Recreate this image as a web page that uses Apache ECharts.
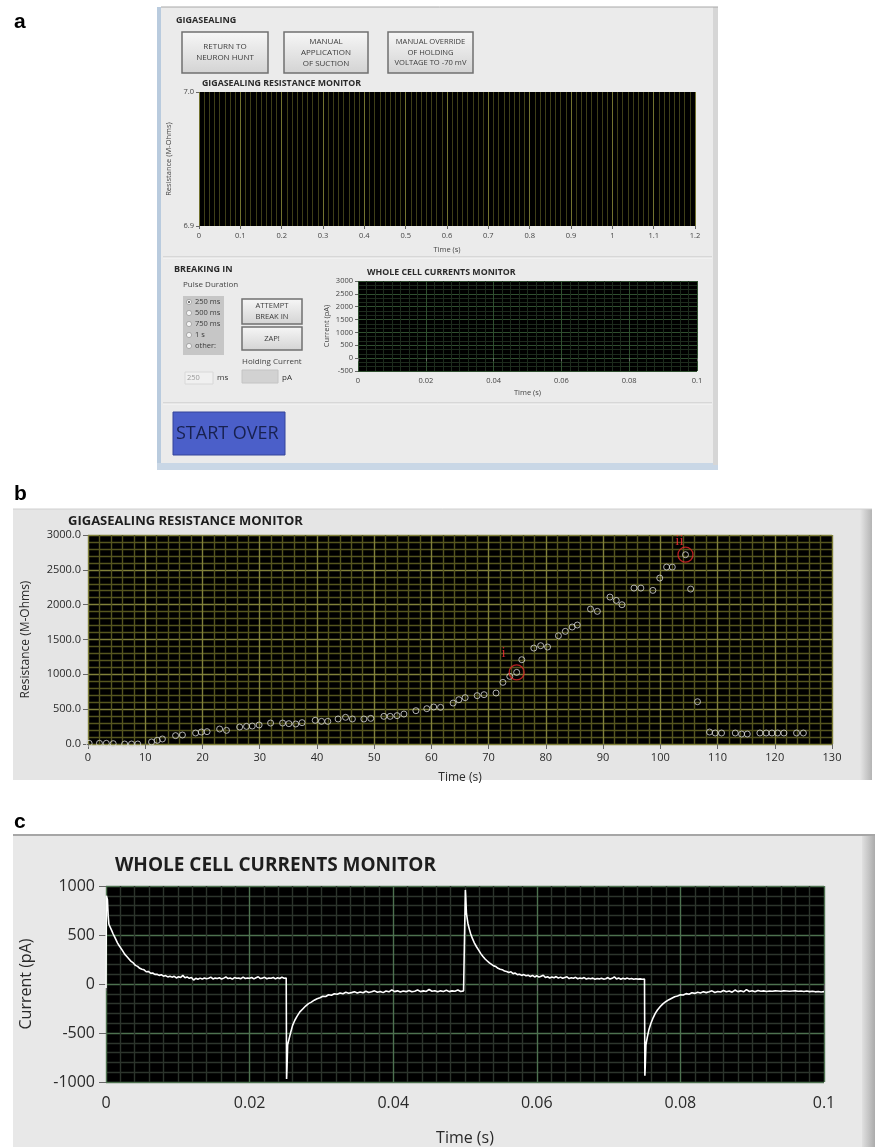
<!DOCTYPE html>
<html>
<head>
<meta charset="utf-8">
<title>Gigasealing monitor</title>
<script src="https://cdn.jsdelivr.net/npm/echarts@6/dist/echarts.min.js"></script>
<style>
  html, body { margin: 0; padding: 0; background: #ffffff; }
  #main { width: 878px; height: 1147px; }
</style>
</head>
<body>
<div id="main"></div>
<script>
// panel b: seal resistance while gigasealing (time in s, resistance in M-Ohms)
var sealTime = [0.2, 2.0, 3.2, 4.4, 6.4, 7.6, 8.7, 11.1, 12.1, 13.0, 15.3, 16.5, 18.8, 19.8, 20.8,
  23.0, 24.2, 26.5, 27.7, 28.7, 29.9, 31.9, 34.0, 35.1, 36.3, 37.4, 39.7, 40.8, 41.9, 43.7, 45.0,
  46.2, 48.2, 49.4, 51.7, 52.8, 54.0, 55.2, 57.3, 59.2, 60.4, 61.6, 63.8, 64.8, 65.9, 68.0, 69.2,
  71.3, 72.5, 73.7, 74.9, 75.8, 77.9, 79.1, 80.3, 82.2, 83.4, 84.6, 85.5, 87.8, 89.0, 91.2, 92.3,
  93.3, 95.4, 96.6, 98.7, 99.9, 101.1, 102.1, 104.4, 105.3, 106.5, 108.6, 109.6, 110.7, 113.1,
  114.2, 115.2, 117.4, 118.5, 119.5, 120.5, 121.6, 123.8, 125.0];
var sealResistance = [10, 10, 10, 5, 0, 0, 0, 29, 53, 72, 120, 129, 158, 172, 177,
  215, 196, 244, 253, 258, 273, 301, 301, 292, 287, 306, 340, 325, 325, 359, 383,
  359, 359, 368, 397, 397, 407, 430, 478, 507, 531, 526, 588, 636, 665, 694, 708,
  732, 885, 971, 1028, 1210, 1377, 1411, 1392, 1554, 1617, 1679, 1708, 1937, 1904, 2109, 2061,
  1999, 2238, 2238, 2205, 2382, 2540, 2540, 2717, 2224, 607, 172, 158, 158, 158,
  143, 143, 158, 158, 158, 158, 158, 158, 158];
// the two circled points
var markTime = [74.9, 104.4];
var markResistance = [1028, 2717];
var markName = ['i', 'ii'];
var markOffset = [[-13, -19], [-6, -14]];

// panel c: whole cell current (time in s, current in pA)
var stepUpA = [[0, -40], [0.00005, 900], [0.0002, 860], [0.0003, 700], [0.0004, 610], [0.0006, 590],
  [0.0008, 545], [0.001, 510], [0.0012, 480], [0.0014, 450], [0.0016, 420], [0.0018, 395], [0.002, 375],
  [0.0023, 340], [0.0026, 305], [0.0029, 280], [0.0032, 255], [0.0035, 230], [0.0038, 215], [0.0041, 190],
  [0.0044, 180], [0.0047, 160], [0.005, 150], [0.0053, 145], [0.0056, 125], [0.0059, 128], [0.0062, 110],
  [0.0065, 112], [0.0068, 98], [0.0071, 100], [0.0074, 88], [0.0077, 95], [0.008, 80], [0.0083, 86],
  [0.0086, 72], [0.0089, 80], [0.0092, 70], [0.0095, 78], [0.0098, 62], [0.0101, 74], [0.0104, 66],
  [0.0107, 88], [0.011, 64], [0.0113, 72], [0.0116, 58], [0.0119, 66], [0.0122, 40], [0.0125, 58],
  [0.0128, 48], [0.0131, 60], [0.0134, 50], [0.0137, 62], [0.014, 54], [0.0143, 58], [0.0146, 70],
  [0.0149, 52], [0.0152, 60], [0.0155, 56], [0.0158, 64], [0.0161, 50], [0.0164, 60], [0.0167, 72],
  [0.017, 55], [0.0173, 62], [0.0176, 50], [0.0179, 66], [0.0182, 58], [0.0185, 60], [0.0188, 54],
  [0.0191, 70], [0.0194, 56], [0.0197, 62], [0.02, 58], [0.0203, 66], [0.0206, 52], [0.0209, 64],
  [0.0212, 74], [0.0215, 56], [0.0218, 60], [0.0221, 68], [0.0224, 54], [0.0227, 62], [0.023, 58],
  [0.0233, 66], [0.0236, 52], [0.0239, 64], [0.0242, 56], [0.0245, 70], [0.0248, 58], [0.0251, 60]];
var stepDownA = [[0.02515, -970], [0.0252, -880], [0.0253, -620], [0.0255, -560], [0.0257, -500],
  [0.026, -420], [0.0263, -370], [0.0266, -330], [0.027, -285], [0.0274, -255], [0.0278, -225],
  [0.0282, -200], [0.0286, -185], [0.029, -165], [0.0294, -150], [0.0298, -140], [0.0302, -125],
  [0.0306, -128], [0.031, -110], [0.0314, -115], [0.0318, -100], [0.0322, -105], [0.0326, -92],
  [0.033, -100], [0.0334, -85], [0.0338, -95], [0.0342, -88], [0.0346, -78], [0.035, -92], [0.0354, -82],
  [0.0358, -90], [0.0362, -74], [0.0366, -86], [0.037, -80], [0.0374, -70], [0.0378, -84], [0.0382, -76],
  [0.0386, -88], [0.039, -72], [0.0394, -80], [0.0398, -60], [0.0402, -78], [0.0406, -70], [0.041, -82],
  [0.0414, -72], [0.0418, -78], [0.0422, -66], [0.0426, -80], [0.043, -74], [0.0434, -62], [0.0438, -78],
  [0.0442, -70], [0.0446, -76], [0.045, -56], [0.0454, -74], [0.0458, -68], [0.0462, -80], [0.0466, -70],
  [0.047, -76], [0.0474, -64], [0.0478, -78], [0.0482, -70], [0.0486, -74], [0.049, -62], [0.0494, -76],
  [0.0498, -70], [0.05, -72]];
var stepUpB = [[0.05005, 960], [0.0501, 900], [0.0502, 720], [0.0504, 620], [0.0506, 560], [0.0508, 510],
  [0.051, 470], [0.0513, 420], [0.0516, 380], [0.0519, 345], [0.0522, 310], [0.0525, 280], [0.0528, 255],
  [0.0531, 235], [0.0534, 215], [0.0537, 200], [0.054, 185], [0.0543, 178], [0.0546, 160], [0.0549, 150],
  [0.0552, 146], [0.0555, 132], [0.0558, 128], [0.0561, 118], [0.0564, 124], [0.0567, 106], [0.057, 112],
  [0.0573, 96], [0.0576, 100], [0.0579, 88], [0.0582, 96], [0.0585, 84], [0.0588, 90], [0.0591, 76],
  [0.0594, 88], [0.0597, 72], [0.06, 84], [0.0603, 70], [0.0606, 80], [0.0609, 90], [0.0612, 66],
  [0.0615, 74], [0.0618, 62], [0.0621, 72], [0.0624, 64], [0.0627, 76], [0.063, 60], [0.0633, 70],
  [0.0636, 58], [0.0639, 66], [0.0642, 74], [0.0645, 56], [0.0648, 64], [0.0651, 58], [0.0654, 68],
  [0.0657, 54], [0.066, 62], [0.0663, 56], [0.0666, 66], [0.0669, 50], [0.0672, 58], [0.0675, 54],
  [0.0678, 60], [0.0681, 48], [0.0684, 56], [0.0687, 52], [0.069, 58], [0.0693, 50], [0.0696, 54],
  [0.0699, 66], [0.0702, 50], [0.0705, 58], [0.0708, 72], [0.0711, 52], [0.0714, 62], [0.0717, 48],
  [0.072, 58], [0.0723, 52], [0.0726, 60], [0.0729, 50], [0.0732, 56], [0.0735, 48], [0.0738, 54],
  [0.0741, 50], [0.0744, 52], [0.0747, 48], [0.075, 50]];
var stepDownB = [[0.07505, -935], [0.0751, -850], [0.0752, -620], [0.0754, -540], [0.0756, -470],
  [0.0759, -400], [0.0762, -345], [0.0765, -300], [0.0768, -265], [0.0772, -230], [0.0776, -200],
  [0.078, -178], [0.0784, -160], [0.0788, -145], [0.0792, -130], [0.0796, -122], [0.08, -110],
  [0.0804, -112], [0.0808, -98], [0.0812, -104], [0.0816, -90], [0.082, -96], [0.0824, -84], [0.0828, -92],
  [0.0832, -78], [0.0836, -88], [0.084, -80], [0.0844, -70], [0.0848, -86], [0.0852, -76], [0.0856, -82],
  [0.086, -66], [0.0864, -80], [0.0868, -72], [0.0872, -84], [0.0876, -62], [0.088, -78], [0.0884, -70],
  [0.0888, -80], [0.0892, -58], [0.0896, -76], [0.09, -68], [0.0904, -78], [0.0908, -66], [0.0912, -74],
  [0.0916, -70], [0.092, -76], [0.0924, -72], [0.0928, -74], [0.0932, -70], [0.0936, -72], [0.094, -74],
  [0.0944, -70], [0.0948, -72], [0.0952, -74], [0.0956, -72], [0.096, -70], [0.0964, -74], [0.0968, -72],
  [0.0972, -76], [0.0976, -72], [0.098, -78], [0.0984, -74], [0.0988, -80], [0.0992, -76], [0.0996, -82],
  [0.1, -78]];

// panel a: front panel controls
var pulseChoices = ['250 ms', '500 ms', '750 ms', '1 s', 'other:'];

var UI = 'Open Sans, Noto Sans, sans-serif';
var chart = echarts.init(document.getElementById('main'), null, { renderer: 'canvas' });

function axis(gridIndex, min, max, interval, look) {
  return {
    type: 'value', gridIndex: gridIndex, min: min, max: max, interval: interval,
    name: look.name, nameLocation: 'middle', nameGap: look.nameGap,
    nameTextStyle: { fontFamily: UI, fontSize: look.nameSize, color: look.color || '#333' },
    axisLine: { show: false },
    axisTick: { show: true, length: look.tickLen, lineStyle: { color: '#666', width: 1 } },
    axisLabel: {
      fontFamily: UI, fontSize: look.size, color: look.color || '#333', margin: look.margin,
      formatter: look.formatter || plain
    },
    splitLine: { show: !!look.major, lineStyle: { color: look.major, width: look.lineWidth || 1 } },
    minorTick: { show: false, splitNumber: look.minorSplit || 5 },
    minorSplitLine: { show: !!look.minor, lineStyle: { color: look.minor, width: look.lineWidth || 1 } }
  };
}

function button(x, y, w, h, label, size) {
  return {
    type: 'group', x: x, y: y,
    children: [
      { type: 'rect', shape: { x: 0, y: 0, width: w, height: h },
        style: { fill: new echarts.graphic.LinearGradient(0, 0, 0, 1,
          [{ offset: 0, color: '#f7f7f7' }, { offset: 1, color: '#d3d3d3' }]),
          stroke: '#707070', lineWidth: 1.5 } },
      { type: 'text', style: { text: label, x: w / 2, y: h / 2, align: 'center', verticalAlign: 'middle',
        fontFamily: UI, fontSize: size, lineHeight: size + 2.8, fill: '#3c3c3c' } }
    ]
  };
}

function label(x, y, text, size, extra) {
  var st = { text: text, x: x, y: y, fontFamily: UI, fontSize: size, fill: '#2a2a2a', verticalAlign: 'middle' };
  for (var k in (extra || {})) st[k] = extra[k];
  return { type: 'text', style: st };
}

var graphics = [
  // panel a window
  { type: 'rect', z: -10, shape: { x: 158, y: 7, width: 560, height: 463 }, style: { fill: '#ebebeb' } },
  { type: 'rect', z: -9, shape: { x: 157, y: 7, width: 4, height: 463 }, style: { fill: '#b9cbde' } },
  { type: 'rect', z: -9, shape: { x: 157, y: 463, width: 561, height: 7 }, style: { fill: '#c9d7e6' } },
  { type: 'rect', z: -9, shape: { x: 713, y: 7, width: 5, height: 458 }, style: { fill: '#d6d6d6' } },
  { type: 'line', z: -9, shape: { x1: 161, y1: 7, x2: 718, y2: 7 }, style: { stroke: '#a8a8a8', lineWidth: 1 } },
  { type: 'line', z: -9, shape: { x1: 163, y1: 257, x2: 712, y2: 257 }, style: { stroke: '#c2c2c2', lineWidth: 1 } },
  { type: 'line', z: -9, shape: { x1: 163, y1: 258, x2: 712, y2: 258 }, style: { stroke: '#f8f8f8', lineWidth: 1 } },
  { type: 'line', z: -9, shape: { x1: 163, y1: 403, x2: 712, y2: 403 }, style: { stroke: '#c2c2c2', lineWidth: 1 } },
  { type: 'line', z: -9, shape: { x1: 163, y1: 404, x2: 712, y2: 404 }, style: { stroke: '#f8f8f8', lineWidth: 1 } },
  label(176, 20, 'GIGASEALING', 9, { fontWeight: 'bold' }),
  button(182, 32, 86, 41, 'RETURN TO\nNEURON HUNT', 8),
  button(284, 32, 84, 41, 'MANUAL\nAPPLICATION\nOF SUCTION', 8),
  button(388, 32, 85, 41, 'MANUAL OVERRIDE\nOF HOLDING\nVOLTAGE TO -70 mV', 7.6),
  label(202, 83, 'GIGASEALING RESISTANCE MONITOR', 8.8, { fontWeight: 'bold' }),
  label(174, 269, 'BREAKING IN', 9, { fontWeight: 'bold' }),
  label(183, 285, 'Pulse Duration', 8, { fill: '#444' }),
  { type: 'rect', shape: { x: 183, y: 296, width: 41, height: 59 }, style: { fill: '#c6c6c6' } },
  button(242, 299, 60, 25, 'ATTEMPT\nBREAK IN', 7.6),
  button(242, 327, 60, 23, 'ZAP!', 7.6),
  label(242, 362, 'Holding Current', 8, { fill: '#444' }),
  { type: 'rect', shape: { x: 185, y: 372, width: 28, height: 12 }, style: { fill: '#f0f0f0', stroke: '#d8d8d8' } },
  label(187, 378, '250', 7.5, { fill: '#9a9a9a' }),
  label(217, 378, 'ms', 8, { fill: '#333' }),
  { type: 'rect', shape: { x: 242, y: 370, width: 36, height: 13 }, style: { fill: '#d2d2d2', stroke: '#c4c4c4' } },
  label(282, 378, 'pA', 8, { fill: '#333' }),
  label(367, 272, 'WHOLE CELL CURRENTS MONITOR', 8.8, { fontWeight: 'bold' }),
  { type: 'rect', shape: { x: 173, y: 412, width: 112, height: 43 },
    style: { fill: '#4b5fc9', stroke: '#34449a', lineWidth: 1 } },
  label(176, 434, 'START OVER', 18, { fill: '#18214f' }),

  // panel b frame
  { type: 'rect', z: -10, shape: { x: 13, y: 509, width: 859, height: 271 }, style: { fill: '#e5e5e5' } },
  { type: 'rect', z: -9, shape: { x: 860, y: 509, width: 12, height: 271 },
    style: { fill: new echarts.graphic.LinearGradient(0, 0, 1, 0,
      [{ offset: 0, color: '#e5e5e5' }, { offset: 1, color: '#b4b4b4' }]) } },
  { type: 'line', z: -9, shape: { x1: 13, y1: 509, x2: 872, y2: 509 }, style: { stroke: '#d0d0d0', lineWidth: 1 } },
  label(68, 521, 'GIGASEALING RESISTANCE MONITOR', 13, { fontWeight: 'bold', fill: '#1e1e1e' }),

  // panel c frame
  { type: 'rect', z: -10, shape: { x: 13, y: 835, width: 862, height: 312 }, style: { fill: '#e8e8e8' } },
  { type: 'rect', z: -9, shape: { x: 862, y: 835, width: 13, height: 312 },
    style: { fill: new echarts.graphic.LinearGradient(0, 0, 1, 0,
      [{ offset: 0, color: '#e0e0e0' }, { offset: 1, color: '#ababab' }]) } },
  { type: 'line', z: -9, shape: { x1: 13, y1: 835, x2: 875, y2: 835 }, style: { stroke: '#a6a6a6', lineWidth: 2 } },
  label(115, 866, 'WHOLE CELL CURRENTS MONITOR', 19, { fontWeight: 'bold', fill: '#1e1e1e' }),

  // panel letters
  label(14, 22, 'a', 21, { fontWeight: 'bold', fontFamily: 'Liberation Sans, Arial, sans-serif', fill: '#000' }),
  label(14, 494, 'b', 21, { fontWeight: 'bold', fontFamily: 'Liberation Sans, Arial, sans-serif', fill: '#000' }),
  label(14, 822, 'c', 21, { fontWeight: 'bold', fontFamily: 'Liberation Sans, Arial, sans-serif', fill: '#000' })
];

pulseChoices.forEach(function (name, i) {
  var cy = 302 + i * 11;
  graphics.push({ type: 'circle', shape: { cx: 189, cy: cy, r: 2.6 },
    style: { fill: '#f4f4f4', stroke: '#9a9a9a', lineWidth: 0.8 } });
  if (i === 0) {
    graphics.push({ type: 'circle', shape: { cx: 189, cy: cy, r: 1 }, style: { fill: '#444' } });
  }
  graphics.push(label(195, cy, name, 7.5, { fill: '#3a3a3a' }));
});

var sealPoints = sealTime.map(function (t, i) { return [t, sealResistance[i]]; });
var markPoints = markTime.map(function (t, i) {
  return { value: [t, markResistance[i]], name: markName[i],
    label: { offset: markOffset[i] } };
});
var currentTrace = stepUpA.concat(stepDownA, stepUpB, stepDownB);

function plain(v) { return String(v); }
function fixed1(v) { return v.toFixed(1); }

var option = {
  backgroundColor: '#ffffff',
  animation: false,
  graphic: { elements: graphics },
  grid: [
    { left: 199, top: 92, width: 496, height: 134, show: true, backgroundColor: '#000', borderWidth: 0 },
    { left: 358, top: 281, width: 339, height: 90, show: true, backgroundColor: '#000', borderWidth: 0 },
    { left: 88, top: 535, width: 744, height: 209, show: true, backgroundColor: '#000', borderWidth: 0 },
    { left: 106, top: 886, width: 718, height: 196, show: true, backgroundColor: '#000', borderWidth: 0 }
  ],
  xAxis: [
    axis(0, 0, 1.2, 0.1, { size: 7.5, margin: 6, tickLen: 3, name: 'Time (s)', nameGap: 20, nameSize: 7.5,
      major: '#727230', minor: '#3e3e18', minorSplit: 8, color: '#444' }),
    axis(1, 0, 0.1, 0.02, { size: 7.5, margin: 6, tickLen: 3, name: 'Time (s)', nameGap: 18, nameSize: 7.5,
      major: '#2f4f2f', minor: '#1d2b1d', minorSplit: 8, color: '#444' }),
    axis(2, 0, 130, 10, { size: 11, margin: 8, tickLen: 5, name: 'Time (s)', nameGap: 28, nameSize: 12,
      major: '#80803a', minor: '#55551f', lineWidth: 1.4, minorSplit: 5, color: '#2a2a2a' }),
    axis(3, 0, 0.1, 0.02, { size: 16, margin: 13, tickLen: 7, name: 'Time (s)', nameGap: 48, nameSize: 16,
      major: '#4d714f', minor: '#2c342c', lineWidth: 1.4, minorSplit: 10, color: '#2a2a2a' })
  ],
  yAxis: [
    axis(0, 6.9, 7.0, 0.1, { size: 7.5, margin: 5, tickLen: 3, name: 'Resistance (M-Ohms)', nameGap: 22,
      nameSize: 7.5, formatter: fixed1, color: '#444' }),
    axis(1, -500, 3000, 500, { size: 7.5, margin: 5, tickLen: 3, name: 'Current (pA)', nameGap: 27,
      nameSize: 7.5, major: '#2f4f2f', minor: '#1d2b1d', minorSplit: 3, color: '#444' }),
    axis(2, 0, 3000, 500, { size: 11, margin: 7, tickLen: 5, name: 'Resistance (M-Ohms)', nameGap: 56,
      nameSize: 12, formatter: fixed1, major: '#80803a', minor: '#55551f', lineWidth: 1.4, minorSplit: 5,
      color: '#2a2a2a' }),
    axis(3, -1000, 1000, 500, { size: 16, margin: 11, tickLen: 7, name: 'Current (pA)', nameGap: 72,
      nameSize: 16, major: '#4d714f', minor: '#2c342c', lineWidth: 1.4, minorSplit: 5, color: '#2a2a2a' })
  ],
  series: [
    { type: 'line', xAxisIndex: 0, yAxisIndex: 0, data: [] },
    { type: 'line', xAxisIndex: 1, yAxisIndex: 1, data: [] },
    { type: 'scatter', xAxisIndex: 2, yAxisIndex: 2, data: sealPoints, symbol: 'circle', symbolSize: 6,
      itemStyle: { color: 'rgba(0,0,0,0)', borderColor: '#d8d8d8', borderWidth: 1 } },
    { type: 'scatter', xAxisIndex: 2, yAxisIndex: 2, data: markPoints, symbol: 'circle', symbolSize: 15,
      itemStyle: { color: 'rgba(0,0,0,0)', borderColor: '#e3262b', borderWidth: 1.3 },
      label: { show: true, position: 'inside', formatter: '{b}', color: '#ff3036', fontSize: 15,
        fontFamily: 'Liberation Serif, DejaVu Serif, serif' } },
    { type: 'line', xAxisIndex: 3, yAxisIndex: 3, data: currentTrace, showSymbol: false,
      lineStyle: { color: '#ffffff', width: 1.6 } }
  ]
};

chart.setOption(option);
</script>
</body>
</html>
